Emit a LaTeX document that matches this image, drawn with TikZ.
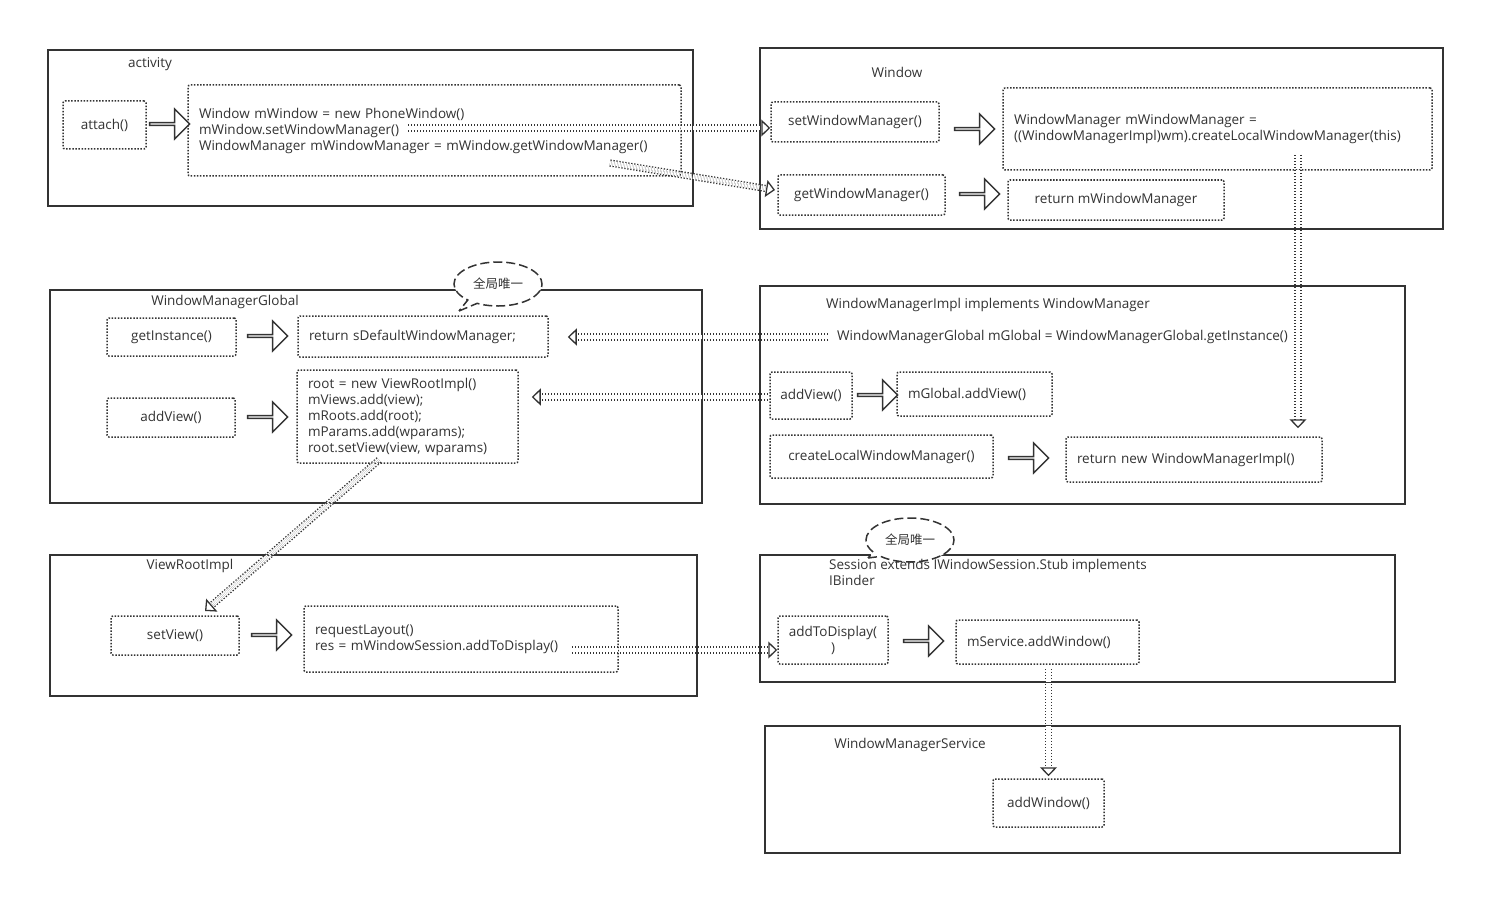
\documentclass[tikz,border=0pt]{standalone}
\usepackage{fontspec}
\setmainfont{Open Sans}
\newfontfamily\cjkf{Noto Sans CJK SC}
\usetikzlibrary{arrows.meta,shapes.arrows,shapes.callouts,calc}
\definecolor{ln}{HTML}{333333}
\definecolor{tx}{HTML}{333333}
\newcommand{\fs}{\fontsize{13.5}{16}\selectfont}
\tikzset{
  every node/.style={font=\fs, text=tx},
  outer/.style={draw=ln, line width=1.6pt, inner sep=0pt},
  dbox/.style={draw=ln, line width=1.5pt, dash pattern=on 1.5pt off 1.6pt, rounded corners=2pt, inner sep=0pt, align=center},
  lbox/.style={dbox, align=left, inner xsep=11pt, inner ysep=0pt},
  blk/.style={single arrow, draw=ln, fill=white, line width=1.4pt, minimum height=40pt, minimum width=30pt, single arrow head extend=7pt, inner sep=0pt},
  dd/.style={draw=ln, line width=1.3pt, double=white, double distance=4.6pt, dash pattern=on 1.3pt off 1.7pt, -{Triangle[open,length=9pt,width=17pt]}},
  bub/.style={ellipse callout, draw=ln, fill=white, line width=1.5pt, dash pattern=on 9pt off 4pt, minimum width=88pt, minimum height=44pt, callout pointer width=10pt, font=\cjkf\fontsize{12.5}{14}\selectfont},
  lbl/.style={inner sep=0pt},
}
\begin{document}
\begin{tikzpicture}[x=1pt,y=-1pt]
\useasboundingbox (0,0) rectangle (1505,915);
\fill[white] (0,0) rectangle (1505,915);
% outer frames
\node[outer, minimum width=645pt, minimum height=156pt] (act) at (370.5,128) {};
\node[outer, minimum width=683pt, minimum height=181pt] (win) at (1101.5,138.5) {};
\node[outer, minimum width=652pt, minimum height=213pt] (wmg) at (376,396.5) {};
\node[outer, minimum width=645pt, minimum height=218pt] (wmi) at (1082.5,395) {};
\node[outer, minimum width=647pt, minimum height=141pt] (vri) at (373.5,625.5) {};
\node[outer, minimum width=635pt, minimum height=127pt] (ses) at (1077.5,618.5) {};
\node[outer, minimum width=635pt, minimum height=127pt] (wms) at (1082.5,789.5) {};
% frame titles
\node[lbl] (tact) at (150,64) {activity};
\node[lbl] (twin) at (897,72) {Window};
\node[lbl] (twmg) at (225,302) {WindowManagerGlobal};
\node[lbl] (twmi) at (988,305) {WindowManagerImpl implements WindowManager};
\node[lbl] (tvri) at (190,566) {ViewRootImpl};
\node[lbl] (twms) at (910,745) {WindowManagerService};
% activity
\node[dbox, minimum width=83pt, minimum height=48pt] (attach) at (104.5,125) {attach()};
\node[lbox, text width=471pt, minimum height=91pt] (actcode) at (434.5,130.5) {Window mWindow = new PhoneWindow()\\mWindow.setWindowManager()\\WindowManager mWindowManager = mWindow.getWindowManager()};
% window
\node[dbox, minimum width=168pt, minimum height=40pt] (swm) at (855,122) {setWindowManager()};
\node[dbox, minimum width=167pt, minimum height=40pt] (gwm) at (861.5,195) {getWindowManager()};
\node[lbox, text width=407pt, minimum height=82pt] (wmcode) at (1217.5,129) {WindowManager mWindowManager =\\((WindowManagerImpl)wm).createLocalWindowManager(this)};
\node[dbox, minimum width=216pt, minimum height=40pt] (retwm) at (1116,200) {return mWindowManager};
% window manager global
\node[dbox, minimum width=129pt, minimum height=38pt] (getinst) at (171.5,337) {getInstance()};
\node[lbox, text width=228pt, minimum height=41pt] (retsdm) at (423,336.5) {return sDefaultWindowManager;};
\node[dbox, minimum width=128pt, minimum height=39pt] (addvl) at (171,417.5) {addView()};
\node[lbox, text width=199pt, minimum height=93pt] (rootcode) at (407.5,416.5) {root = new ViewRootImpl()\\mViews.add(view);\\mRoots.add(root);\\mParams.add(wparams);\\root.setView(view, wparams)};
% window manager impl
\node[lbl, anchor=west] (mglobal) at (837,337) {WindowManagerGlobal mGlobal = WindowManagerGlobal.getInstance()};
\node[dbox, minimum width=82pt, minimum height=47pt] (addvr) at (811,395.5) {addView()};
\node[lbox, text width=133pt, minimum height=44pt] (gadd) at (974.5,394) {mGlobal.addView()};
\node[dbox, minimum width=223pt, minimum height=43pt] (clwm) at (881.5,456.5) {createLocalWindowManager()};
\node[lbox, text width=234pt, minimum height=45pt] (rnwmi) at (1194,459.5) {return new WindowManagerImpl()};
% view root impl
\node[dbox, minimum width=128pt, minimum height=39pt] (setview) at (175,635.5) {setView()};
\node[lbox, text width=292pt, minimum height=66pt] (reqcode) at (461,639) {requestLayout()\\res = mWindowSession.addToDisplay()};
% session
\node[dbox, minimum width=110pt, minimum height=48pt] (atd) at (833,640) {addToDisplay(\\)};
\node[lbox, text width=161pt, minimum height=44pt] (msadd) at (1047.5,642) {mService.addWindow()};
% wms
\node[dbox, minimum width=111pt, minimum height=48pt] (addwin) at (1048.5,803) {addWindow()};
% solid block arrows
\node[blk] (b1) at (169,124) {};
\node[blk] (b2) at (974,129) {};
\node[blk] (b3) at (979,194) {};
\node[blk] (b4) at (267,336) {};
\node[blk] (b5) at (267,417) {};
\node[blk] (b6) at (877,395) {};
\node[blk] (b7) at (1028,458) {};
\node[blk] (b8) at (271,635) {};
\node[blk] (b9) at (923,641) {};
% dotted connectors
\coordinate (a1) at (408,128);
\draw[dd] (a1) -- (a1 -| swm.west);
\coordinate (c1) at (610,163);
\coordinate (c2) at (775,190);
\draw[dd] (c1) -- (c2);
\coordinate (v1) at (1298,155);
\draw[dd, shorten >=8pt] (v1) -- (v1 |- rnwmi.north);
\draw[dd, shorten <=9pt, shorten >=19pt] (mglobal.west) -- (mglobal.west -| retsdm.east);
\coordinate (e1) at (768,397);
\draw[dd, shorten >=13pt] (e1) -- (e1 -| rootcode.east);
\coordinate (f1) at (379,460);
\coordinate (f2) at (205,611);
\draw[dd] (f1) -- (f2);
\coordinate (g1) at (572,650);
\draw[dd] (g1) -- (g1 -| atd.west);
\draw[dd, shorten >=2pt] (msadd.south -| addwin.north) ++(0,4) coordinate (h1) -- (addwin.north);
% bubbles
\node[bub, callout absolute pointer={(459,311)}] (u1) at (498,284) {全局唯一};
\node[bub, callout absolute pointer={(868,558)}] (u2) at (910,540) {全局唯一};
\node[lbl, anchor=north west, align=left] (tses) at (829,559.5) {Session extends IWindowSession.Stub implements\\IBinder};
\end{tikzpicture}
\end{document}
